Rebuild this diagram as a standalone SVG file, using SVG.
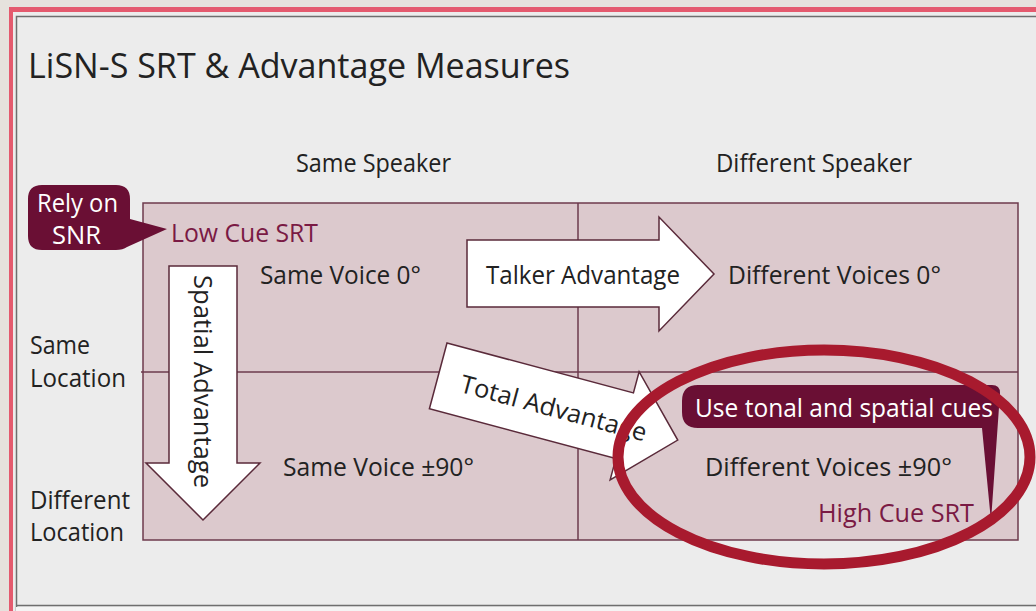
<svg xmlns="http://www.w3.org/2000/svg" width="1036" height="611" viewBox="0 0 1036 611">
<style>
.t{font-family:"Open Sans",Lato,"Liberation Sans",sans-serif;font-size:25px;fill:#222}
.m{fill:#7a1a44}
.w{fill:#fff}
.arrow{fill:#fff;stroke:#5a2a3a;stroke-width:1.5;stroke-linejoin:miter}
.grid{fill:#dcc9cd;stroke:#6d3a4c;stroke-width:1.5}
.call{fill:#6a0f34}
</style>
<rect x="0" y="0" width="1036" height="611" fill="#e6e2dd"/>
<rect x="9" y="7" width="1027" height="604" fill="#e45a6e"/>
<rect x="13" y="12" width="1023" height="599" fill="#ececec"/>
<path d="M16.5 611 V16.5 H1036" fill="none" stroke="#6e6e6e" stroke-width="1.5"/>
<line x1="16" y1="605.5" x2="1036" y2="605.5" stroke="#6e6e6e" stroke-width="1.5"/>
<rect x="16" y="607" width="1020" height="4" fill="#f4f4f4"/>

<text id="title" class="t" x="28" y="78" style="font-size:34px" textLength="542" lengthAdjust="spacingAndGlyphs">LiSN-S SRT &amp; Advantage Measures</text>

<g id="grid">
<rect class="grid" x="143" y="203" width="875" height="337"/>
<line x1="578" y1="203" x2="578" y2="540" stroke="#6d3a4c" stroke-width="1.5"/>
<line x1="141" y1="372" x2="1018" y2="372" stroke="#6d3a4c" stroke-width="1.5"/>
</g>

<g id="headers">
<text class="t" x="296" y="172" textLength="155" lengthAdjust="spacingAndGlyphs">Same Speaker</text>
<text class="t" x="716" y="172" textLength="196" lengthAdjust="spacingAndGlyphs">Different Speaker</text>
<text class="t" x="30" y="354" textLength="60" lengthAdjust="spacingAndGlyphs">Same</text>
<text class="t" x="30" y="387" textLength="96" lengthAdjust="spacingAndGlyphs">Location</text>
<text class="t" x="30" y="509" textLength="100" lengthAdjust="spacingAndGlyphs">Different</text>
<text class="t" x="30" y="541" textLength="94" lengthAdjust="spacingAndGlyphs">Location</text>
</g>

<g id="connectors">
<g id="spatial-advantage">
<polygon class="arrow" points="169,266 237,266 237,463 260,463 203,520 146,463 169,463"/>
<text class="t" transform="translate(194,275) rotate(90)" x="0" y="0" textLength="213" lengthAdjust="spacingAndGlyphs">Spatial Advantage</text>
</g>
<g id="talker-advantage">
<polygon class="arrow" points="467,240 659,240 659,217 714,274 659,331 659,307 467,307"/>
<text class="t" x="486" y="284" textLength="194" lengthAdjust="spacingAndGlyphs">Talker Advantage</text>
</g>
<g id="total-advantage" transform="translate(447,343) rotate(15)">
<polygon class="arrow" points="0,0 193,0 193,-22 248,34 193,90 193,68 0,68"/>
<text class="t" x="24" y="44" textLength="192" lengthAdjust="spacingAndGlyphs">Total Advantage</text>
</g>
</g>

<g id="cell-same-0">
<text class="t" x="260" y="284" textLength="161" lengthAdjust="spacingAndGlyphs">Same Voice 0°</text>
</g>
<g id="cell-diff-0">
<text class="t" x="728" y="284" textLength="213" lengthAdjust="spacingAndGlyphs">Different Voices 0°</text>
</g>
<g id="cell-same-90">
<text class="t" x="283" y="476" textLength="191" lengthAdjust="spacingAndGlyphs">Same Voice ±90°</text>
</g>
<g id="cell-diff-90">
<text class="t" x="705" y="476" textLength="247" lengthAdjust="spacingAndGlyphs">Different Voices ±90°</text>
</g>

<g id="low-cue">
<path class="call" d="M42,185 H116 Q130,185 130,199 V219 L167,229 L127,247 Q123,250 116,250 H42 Q28,250 28,236 V199 Q28,185 42,185 Z"/>
<text class="t w" x="37" y="212" textLength="81" lengthAdjust="spacingAndGlyphs">Rely on</text>
<text class="t w" x="52" y="244" textLength="49" lengthAdjust="spacingAndGlyphs">SNR</text>
<text class="t m" x="171" y="242" textLength="147" lengthAdjust="spacingAndGlyphs">Low Cue SRT</text>
</g>

<g id="high-cue">
<path class="call" d="M698,385 H992 Q1000,385 1000,393 L991,521 L982,428 H698 Q682,428 682,412 V401 Q682,385 698,385 Z"/>
<text class="t w" x="695" y="417" textLength="298" lengthAdjust="spacingAndGlyphs">Use tonal and spatial cues</text>
<text class="t m" x="818" y="522" textLength="156" lengthAdjust="spacingAndGlyphs">High Cue SRT</text>
</g>

<ellipse id="highlight" cx="824" cy="457" rx="206" ry="107" fill="none" stroke="#a81a2e" stroke-width="11"/>
</svg>
